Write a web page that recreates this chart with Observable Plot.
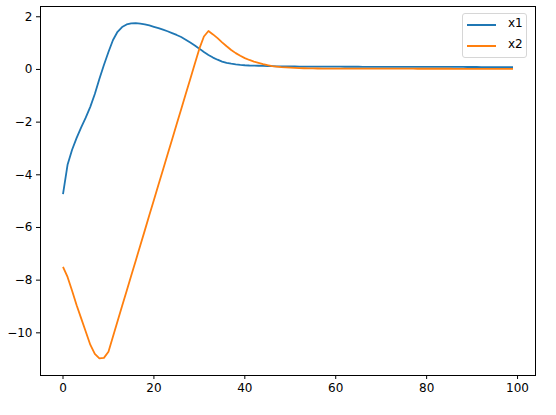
<!DOCTYPE html>
<html>
<head>
<meta charset="utf-8">
<script src="https://cdn.jsdelivr.net/npm/d3@7"></script>
<script src="https://cdn.jsdelivr.net/npm/@observablehq/plot@0.6"></script>
<style>
  html, body { margin: 0; padding: 0; background: #fff; }
  #wrap { position: relative; width: 556px; height: 415px; font-family: "DejaVu Sans", sans-serif; }
  #legend { position: absolute; left: 462px; top: 13px; width: 65px; height: 45px; box-sizing: border-box;
    border: 1px solid #d6d6d6; border-radius: 3px; background: rgba(255,255,255,0.8); }
  .item { position: absolute; left: 4px; height: 14px; font-size: 12px; color: #000; }
  .item .sw { position: absolute; left: 0; top: 6px; width: 29px; height: 0; border-top: 2px solid; }
  .item .lb { position: absolute; left: 41px; top: -2px; white-space: nowrap; }
</style>
</head>
<body>
<div id="wrap"></div>
<script>
const seriesNames = ["x1", "x2"];
const seriesColors = ["#1f77b4", "#ff7f0e"];
const x1 = [
  -4.73, -3.62, -3.05, -2.6, -2.2, -1.83, -1.42, -0.93, -0.36, 0.17,
  0.66, 1.12, 1.43, 1.61, 1.71, 1.75, 1.76, 1.74, 1.71, 1.67,
  1.62, 1.57, 1.51, 1.45, 1.38, 1.31, 1.23, 1.13, 1.02, 0.91,
  0.79, 0.66, 0.55, 0.45, 0.37, 0.30, 0.25, 0.22, 0.195, 0.175,
  0.16, 0.15, 0.145, 0.14, 0.135, 0.13, 0.125, 0.12, 0.117, 0.115,
  0.113, 0.112, 0.111, 0.11, 0.109, 0.108, 0.107, 0.106, 0.105, 0.105,
  0.104, 0.104, 0.103, 0.103, 0.102, 0.102, 0.101, 0.101, 0.1, 0.1,
  0.1, 0.099, 0.099, 0.099, 0.098, 0.098, 0.098, 0.097, 0.097, 0.097,
  0.096, 0.096, 0.096, 0.095, 0.095, 0.095, 0.094, 0.094, 0.094, 0.093,
  0.093, 0.093, 0.092, 0.092, 0.092, 0.091, 0.091, 0.091, 0.09, 0.09
];
const x2 = [
  -7.5, -7.88, -8.4, -8.95, -9.45, -9.95, -10.45, -10.8, -10.97, -10.95,
  -10.72, -10.14, -9.56, -8.98, -8.41, -7.83, -7.26, -6.68, -6.11, -5.53,
  -4.96, -4.38, -3.81, -3.23, -2.66, -2.08, -1.51, -0.93, -0.36, 0.22,
  0.79, 1.25, 1.46, 1.33, 1.19, 1.03, 0.88, 0.74, 0.62, 0.52,
  0.43, 0.36, 0.30, 0.25, 0.20, 0.16, 0.13, 0.11, 0.09, 0.08,
  0.07, 0.06, 0.05, 0.045, 0.04, 0.038, 0.036, 0.035, 0.034, 0.033,
  0.033, 0.032, 0.032, 0.031, 0.031, 0.031, 0.03, 0.03, 0.03, 0.03,
  0.029, 0.029, 0.029, 0.029, 0.028, 0.028, 0.028, 0.028, 0.027, 0.027,
  0.027, 0.027, 0.026, 0.026, 0.026, 0.026, 0.025, 0.025, 0.025, 0.025,
  0.025, 0.024, 0.024, 0.024, 0.024, 0.023, 0.023, 0.023, 0.023, 0.023
];
const xTicks = [0, 20, 40, 60, 80, 100];
const yTicks = [-10, -8, -6, -4, -2, 0, 2];

const rows = [];
[x1, x2].forEach((arr, k) => arr.forEach((v, i) => rows.push({t: i, v, s: seriesNames[k]})));

const fmt = d => d < 0 ? "\u2212" + Math.abs(d) : String(d);

const chart = Plot.plot({
  width: 556, height: 415,
  marginLeft: 40, marginRight: 21, marginTop: 6, marginBottom: 40,
  style: {fontFamily: "DejaVu Sans, sans-serif", fontSize: "12px", color: "#000", background: "#fff", overflow: "visible"},
  x: {domain: [-4.95, 103.95]},
  y: {domain: [-11.62, 2.39]},
  color: {domain: seriesNames, range: seriesColors},
  marks: [
    Plot.line(rows, {x: "t", y: "v", z: "s", stroke: "s", strokeWidth: 1.8, strokeLinejoin: "round", strokeLinecap: "butt"}),
    Plot.frame({stroke: "#000", strokeWidth: 1}),
    Plot.axisX({ticks: xTicks, tickFormat: fmt, tickSize: 4, tickPadding: 4, label: null, stroke: "#000", fill: "#000"}),
    Plot.axisY({ticks: yTicks, tickFormat: fmt, tickSize: 4, tickPadding: 4, label: null, stroke: "#000", fill: "#000"})
  ]
});
const wrap = document.getElementById("wrap");
wrap.appendChild(chart);

const legend = document.createElement("div");
legend.id = "legend";
seriesNames.forEach((name, k) => {
  const item = document.createElement("div");
  item.className = "item";
  item.style.top = (4 + k * 20.7) + "px";
  const sw = document.createElement("div");
  sw.className = "sw";
  sw.style.borderTopColor = seriesColors[k];
  const lb = document.createElement("span");
  lb.className = "lb";
  lb.textContent = name;
  item.appendChild(sw);
  item.appendChild(lb);
  legend.appendChild(item);
});
wrap.appendChild(legend);
</script>
</body>
</html>
